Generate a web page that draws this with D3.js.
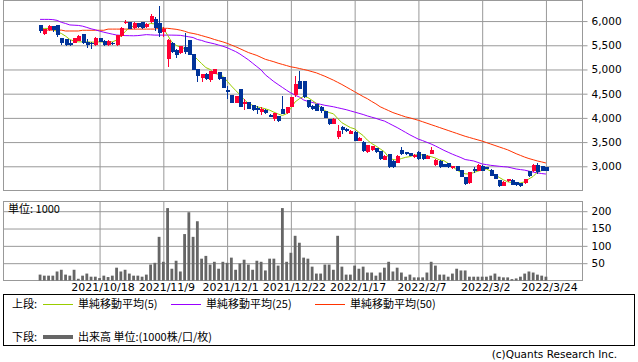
<!DOCTYPE html>
<html>
<head>
<meta charset="utf-8">
<script src="https://cdn.jsdelivr.net/npm/d3@7"></script>
<style>
body { margin:0; background:#fff; }
svg text { font-family:"DejaVu Sans", sans-serif; fill:#000; }
.jp { font-family:"Noto Sans CJK JP", sans-serif; }
</style>
</head>
<body>
<div id="canvas"></div>
<script>
// ---- DATA ----
// trading days are numbered 1..120 (2021/9/28 .. 2022/3/24)
var opens = [5917,5723,5813,5896,5917,5654,5620,5537,5557,5592,
  5730,5571,5551,5502,5654,5592,5502,5545,5502,5689,
  5952,5979,5855,5959,5979,5869,5986,6041,5952,5779,
  5212,5537,5412,5343,5467,5606,5315,5018,4831,4915,
  4790,4915,4949,4845,4568,4465,4306,4589,4292,4320,
  4257,4209,4119,4167,4064,3981,4036,4188,4099,4222,
  4465,4755,4755,4361,4255,4280,4232,4140,3980,3877,
  3600,3807,3772,3669,3717,3531,3510,3290,3330,3372,
  3310,3137,3255,3117,3069,3340,3290,3276,3186,3303,
  3255,3160,3255,3027,3116,3048,3068,2958,2999,2923,
  2771,2646,2944,2909,3013,2978,2930,2840,2715,2597,
  2688,2722,2667,2653,2646,2895,2895,3033,2999,2978];
var highs = [5925,5840,5920,5900,5920,5660,5630,5606,5660,5710,
  5735,5620,5571,5665,5660,5600,5600,5560,5720,5870,
  6021,5985,5975,5970,5985,5950,6145,6076,6311,5882,
  5620,5571,5420,5490,5744,5615,5320,5020,4905,4920,
  4970,5010,4955,4850,4652,4470,4455,4595,4396,4330,
  4265,4236,4222,4175,4075,4105,4040,4444,4230,4440,
  4875,4965,4760,4370,4265,4290,4240,4145,3985,3990,
  3855,3841,3793,3745,3725,3600,3515,3450,3420,3380,
  3315,3230,3260,3120,3230,3393,3300,3285,3250,3310,
  3260,3230,3390,3160,3120,3055,3075,3005,3005,2930,
  2775,2880,2978,3040,3020,2985,2935,2845,2720,2690,
  2745,2730,2675,2660,2745,2900,3040,3068,3005,2985];
var lows = [5745,5705,5790,5770,5675,5502,5495,5488,5540,5580,
  5520,5447,5433,5495,5560,5495,5495,5510,5495,5680,
  5945,5830,5845,5860,5840,5850,5960,5793,5661,5675,
  5053,5343,5246,5330,5329,5290,4990,4742,4742,4776,
  4742,4905,4790,4615,4396,4300,4300,4215,4154,4180,
  4150,4085,4050,4090,4010,3946,3925,4080,4090,4215,
  4430,4590,4420,4200,4165,4135,4110,3990,3860,3870,
  3565,3669,3703,3660,3520,3525,3290,3280,3320,3285,
  3140,3130,2958,2970,3060,3230,3240,3210,3180,3140,
  3140,3150,3250,3010,2970,2985,2970,2950,2900,2780,
  2620,2640,2860,2900,2900,2935,2800,2730,2580,2590,
  2680,2610,2600,2570,2640,2785,2890,2840,2905,2905];
var closes = [5799,5827,5903,5813,5710,5557,5502,5510,5654,5689,
  5537,5502,5540,5654,5571,5502,5592,5523,5710,5862,
  5986,5834,5965,5882,5848,5938,6104,5848,5744,5834,
  5606,5364,5295,5481,5364,5295,4997,4859,4900,4797,
  4963,5004,4797,4624,4534,4306,4451,4222,4326,4188,
  4154,4167,4188,4099,4015,4099,3932,4085,4222,4430,
  4693,4600,4430,4215,4175,4143,4140,4000,3865,3981,
  3738,3758,3738,3738,3531,3586,3324,3441,3410,3290,
  3151,3220,2979,2979,3220,3255,3255,3220,3241,3151,
  3151,3220,3338,3130,2978,2992,2978,2999,2909,2785,
  2632,2875,2895,3033,2909,2944,2805,2736,2597,2680,
  2736,2618,2611,2597,2736,2791,3033,2874,2909,2909];
var volumes = [17,14,14,14,26,31,17,14,31,5,
  14,20,11,11,7,14,10,14,37,26,
  31,20,14,14,11,17,46,51,126,54,
  209,34,57,26,134,197,126,171,63,71,
  46,54,34,54,51,66,31,49,60,46,
  31,57,54,29,63,63,43,209,54,80,
  129,109,66,63,40,20,20,46,46,31,
  129,40,17,17,43,34,40,23,23,14,
  23,37,54,26,37,23,11,17,9,9,
  9,23,54,43,17,17,11,20,34,29,
  29,11,11,11,11,11,14,20,11,9,
  9,4,6,11,20,26,23,17,14,11];
var ma5 = [5848,5848,5848,5830,5779,5744,5689,5620,5585,5571,
  5571,5571,5565,5565,5571,5565,5565,5571,5606,5689,
  5779,5869,5896,5910,5910,5917,5952,5940,5896,5848,
  5710,5560,5500,5460,5433,5380,5295,5210,5122,5040,
  5000,4920,4900,4860,4760,4660,4568,4480,4380,4300,
  4260,4230,4210,4188,4160,4119,4080,4050,4085,4200,
  4330,4396,4444,4420,4361,4300,4220,4150,4110,4085,
  3990,3900,3850,3800,3774,3700,3635,3540,3470,3420,
  3360,3300,3186,3140,3130,3160,3185,3200,3230,3241,
  3235,3220,3200,3170,3130,3116,3060,2990,2930,2870,
  2845,2840,2870,2900,2930,2944,2900,2820,2771,2720,
  2680,2665,2655,2655,2680,2740,2791,2880,2910,2930];
var ma25 = [6035,6035,6035,6030,6015,5975,5950,5920,5915,5910,
  5895,5869,5840,5820,5793,5770,5750,5730,5712,5705,
  5700,5698,5696,5700,5710,5720,5715,5710,5710,5710,
  5710,5710,5708,5705,5690,5675,5660,5620,5600,5570,
  5550,5530,5505,5480,5450,5410,5370,5320,5260,5200,
  5130,5060,4990,4890,4820,4750,4690,4630,4570,4515,
  4470,4430,4370,4340,4320,4300,4280,4260,4245,4230,
  4210,4190,4170,4145,4120,4095,4070,4040,4015,3990,
  3960,3935,3890,3845,3800,3750,3700,3650,3605,3560,
  3530,3495,3460,3420,3375,3330,3290,3250,3215,3180,
  3140,3125,3110,3080,3048,3035,3020,3010,3000,2992,
  2985,2965,2944,2932,2920,2900,2880,2865,2850,2840];
var ma50 = [5813,5813,5813,5813,5813,5813,5795,5795,5795,5795,
  5810,5810,5810,5810,5810,5810,5834,5834,5834,5834,
  5834,5834,5834,5834,5834,5834,5834,5834,5850,5850,
  5850,5840,5830,5813,5790,5760,5744,5725,5700,5675,
  5650,5620,5595,5570,5540,5505,5470,5430,5390,5350,
  5320,5290,5250,5210,5185,5160,5130,5105,5080,5055,
  5040,5020,5000,4980,4955,4930,4895,4860,4820,4780,
  4735,4690,4640,4590,4540,4490,4440,4396,4340,4290,
  4230,4190,4150,4110,4080,4050,4020,4000,3975,3950,
  3920,3890,3860,3830,3800,3770,3740,3710,3680,3650,
  3620,3595,3570,3545,3520,3490,3460,3430,3400,3370,
  3340,3300,3260,3225,3190,3160,3135,3110,3090,3068];

var tickLabels = ['2021/10/18','2021/11/9','2021/12/1','2021/12/22','2022/1/17','2022/2/7','2022/3/2','2022/3/24'];
var tickDays = [15,30,45,60,75,90,105,120];
var priceTicks = [3000,3500,4000,4500,5000,5500,6000];
var volTicks = [50,100,150,200];

var maNames = ['単純移動平均(5)','単純移動平均(25)','単純移動平均(50)'];
var maColors = ['#99cc00','#9900ff','#ff3300'];

// ---- CONVENTIONS ----
var outerWidth = 638, outerHeight = 362;
var left = 3.5, right = 582.5;
var priceTop = 0.5, priceBottom = 190.5;
var volTop = 201.5, volBottom = 280.5;

var svg = d3.select('#canvas')
    .append('svg')
    .attr('width', outerWidth)
    .attr('height', outerHeight);

var rows = closes.map(function(c, i){
    return {day:i+1, open:opens[i], high:highs[i], low:lows[i], close:c, vol:volumes[i]};
});

// ---- SCALES ----
var scaleX = d3.scaleLinear().domain([-7.6, 128.6]).range([left, right]);
var scaleY = d3.scaleLinear().domain([2500, 6425]).range([priceBottom, priceTop]);
var scaleV = d3.scaleLinear().domain([0, 228]).range([volBottom, volTop]);

// ---- GRID ----
function grid(g, top, bottom, ys, yscale){
    g.append('g')
        .attr('transform', 'translate(' + left + ',0)')
        .call(d3.axisLeft(yscale).tickValues(ys).tickSize(-(right-left)).tickFormat(''))
        .call(function(a){ a.select('.domain').remove(); });
    g.append('g')
        .attr('transform', 'translate(0,' + bottom + ')')
        .call(d3.axisBottom(scaleX).tickValues(tickDays).tickSize(-(bottom-top)).tickFormat(''))
        .call(function(a){ a.select('.domain').remove(); });
    g.selectAll('.tick line').attr('stroke', '#999');
    g.append('rect')
        .attr('x', left).attr('y', top)
        .attr('width', right-left).attr('height', bottom-top)
        .attr('fill', 'none').attr('stroke', '#999');
}
grid(svg.append('g'), priceTop, priceBottom, priceTicks, scaleY);
grid(svg.append('g'), volTop, volBottom, volTicks, scaleV);

// right axes
var axisP = svg.append('g')
    .attr('transform', 'translate(' + right + ',0)')
    .call(d3.axisRight(scaleY).tickValues(priceTicks).tickSize(5).tickPadding(4).tickFormat(d3.format(',')));
var axisV = svg.append('g')
    .attr('transform', 'translate(' + right + ',0)')
    .call(d3.axisRight(scaleV).tickValues(volTicks).tickSize(5).tickPadding(4));
[axisP, axisV].forEach(function(a){
    a.select('.domain').remove();
    a.selectAll('line').attr('stroke', '#999');
    a.selectAll('text').style('font-size', '10.5px').attr('fill', '#000');
});

// date labels
var axisD = svg.append('g')
    .attr('transform', 'translate(0,' + volBottom + ')')
    .call(d3.axisBottom(scaleX).tickValues(tickDays).tickSize(0).tickPadding(3)
        .tickFormat(function(d, i){ return tickLabels[i]; }));
axisD.select('.domain').remove();
axisD.selectAll('text').attr('x', 3).style('font-size', '11px').attr('fill', '#000');

// ---- VOLUME ----
svg.append('g').selectAll('rect')
    .data(rows)
    .enter().append('rect')
    .attr('x', function(d){ return scaleX(d.day) - 1.4; })
    .attr('width', 2.8)
    .attr('y', function(d){ return scaleV(d.vol); })
    .attr('height', function(d){ return volBottom - scaleV(d.vol); })
    .attr('fill', '#666');

svg.append('text').attr('class', 'jp')
    .attr('x', 8).attr('y', 213)
    .style('font-size', '11px')
    .text('単位: 1000');

// ---- MOVING AVERAGES ----
var lineGenerator = d3.line()
    .x(function(d, i){ return scaleX(i + 1); })
    .y(function(d){ return scaleY(d); });

[ma50, ma25, ma5].forEach(function(series, k){
    svg.append('path')
        .datum(series)
        .attr('d', lineGenerator)
        .attr('fill', 'none')
        .attr('stroke', maColors[2-k])
        .attr('stroke-width', 1);
});

// ---- CANDLES ----
var candles = svg.append('g').selectAll('g')
    .data(rows)
    .enter().append('g')
    .attr('shape-rendering', 'crispEdges');

candles.append('line')
    .attr('x1', function(d){ return Math.round(scaleX(d.day)) + 0.5; })
    .attr('x2', function(d){ return Math.round(scaleX(d.day)) + 0.5; })
    .attr('y1', function(d){ return scaleY(d.high); })
    .attr('y2', function(d){ return scaleY(d.low); })
    .attr('stroke', function(d){ return d.close >= d.open ? '#ff0033' : '#003399'; });

candles.append('rect')
    .attr('x', function(d){ return Math.round(scaleX(d.day)) - 1; })
    .attr('width', 4)
    .attr('y', function(d){ return scaleY(Math.max(d.open, d.close)); })
    .attr('height', function(d){ return Math.max(1, Math.abs(scaleY(d.open) - scaleY(d.close))); })
    .attr('fill', function(d){ return d.close >= d.open ? '#ff0033' : '#003399'; });

// ---- LEGEND ----
var legend = svg.append('g');
legend.append('rect')
    .attr('x', 3.5).attr('y', 294.5)
    .attr('width', 631).attr('height', 51)
    .attr('fill', 'none').attr('stroke', '#000');

var legendX = [43, 171, 315];
legend.append('text').attr('class', 'jp')
    .attr('x', 12).attr('y', 304).attr('dy', '0.35em')
    .style('font-size', '11px').text('上段:');
maNames.forEach(function(name, i){
    legend.append('line')
        .attr('x1', legendX[i]).attr('x2', legendX[i] + 30)
        .attr('y1', 304.5).attr('y2', 304.5)
        .attr('stroke', maColors[i]);
    legend.append('text').attr('class', 'jp')
        .attr('x', legendX[i] + 35).attr('y', 304).attr('dy', '0.35em')
        .style('font-size', '11px').text(name);
});

legend.append('text').attr('class', 'jp')
    .attr('x', 12).attr('y', 337).attr('dy', '0.35em')
    .style('font-size', '11px').text('下段:');
legend.append('line')
    .attr('x1', 43).attr('x2', 73)
    .attr('y1', 337).attr('y2', 337)
    .attr('stroke', '#666').attr('stroke-width', 4);
legend.append('text').attr('class', 'jp')
    .attr('x', 78).attr('y', 337).attr('dy', '0.35em')
    .style('font-size', '11px').text('出来高 単位:(1000株/口/枚)');

svg.append('text')
    .attr('x', 617).attr('y', 354).attr('dy', '0.35em')
    .attr('text-anchor', 'end')
    .style('font-size', '10.5px').attr('fill', '#333')
    .text('(c)Quants Research Inc.');
</script>
</body>
</html>
